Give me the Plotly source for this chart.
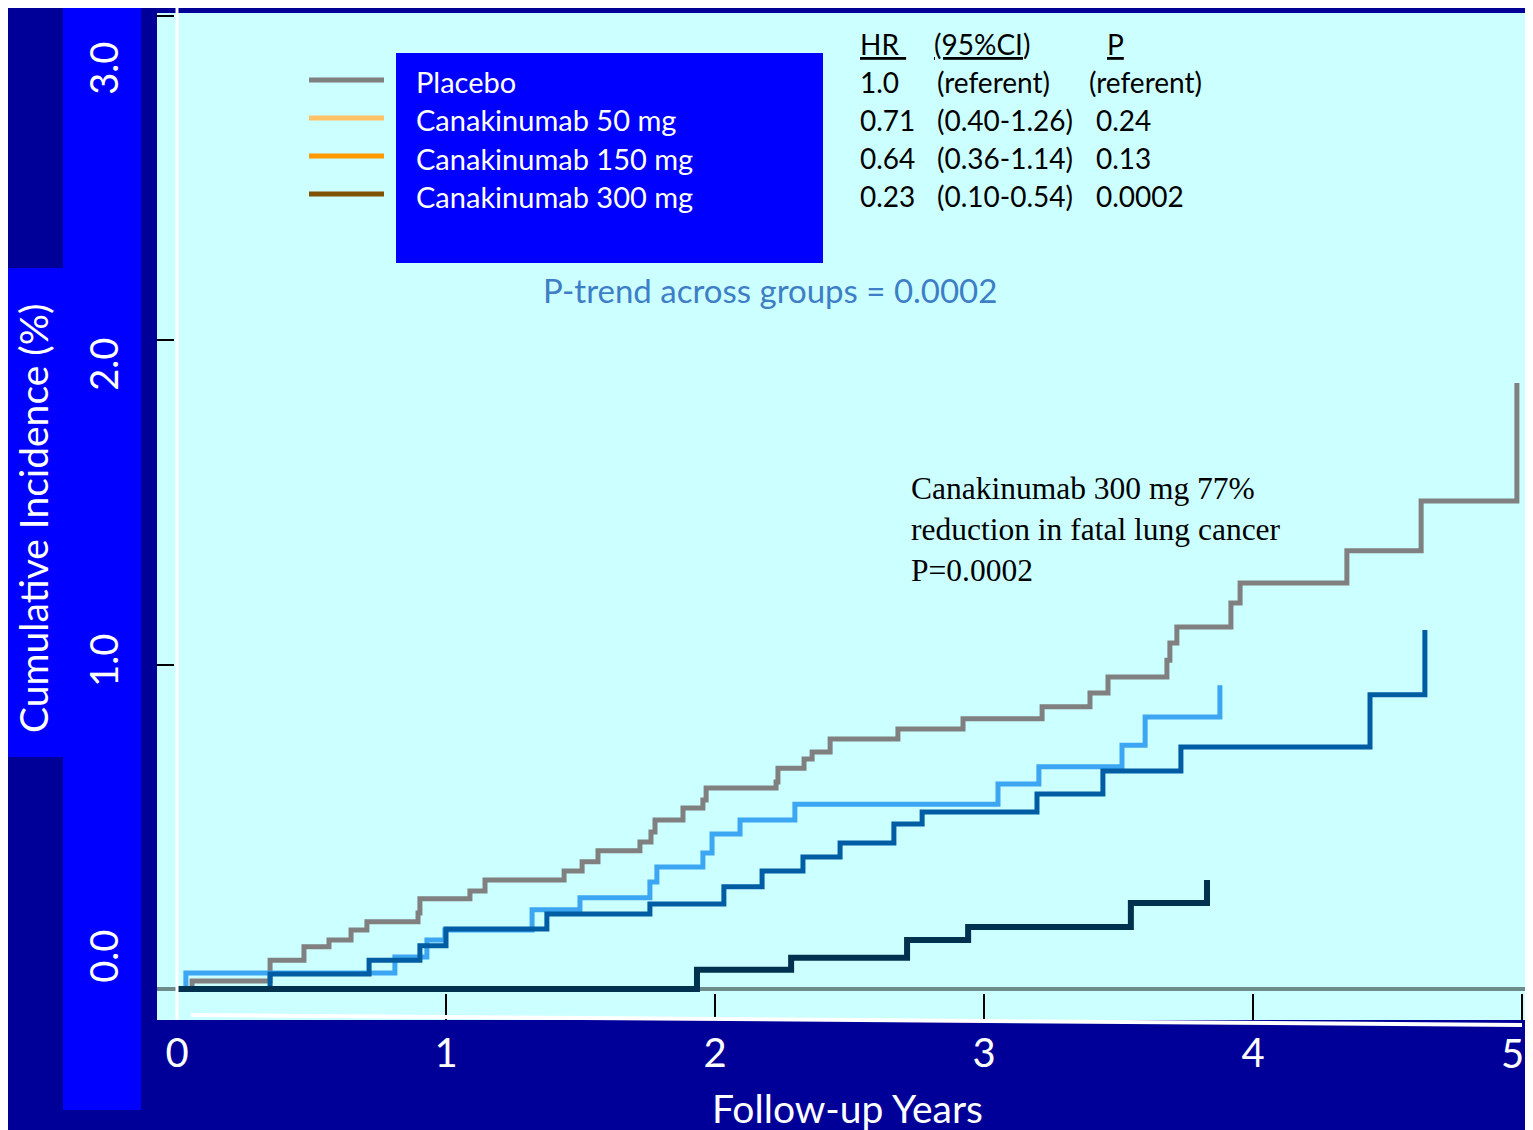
import plotly.graph_objects as go

# ---------------- data ----------------
t_placebo = [0.0, 0.056, 0.346, 0.472, 0.565, 0.647, 0.706, 0.896, 0.903, 1.089, 1.145, 1.439,
             1.506, 1.565, 1.721, 1.762, 1.777, 1.881, 1.955, 1.967, 2.227, 2.234, 2.331, 2.361,
             2.428, 2.680, 2.922, 3.216, 3.394, 3.461, 3.680, 3.691, 3.717, 3.918, 3.952, 4.349,
             4.625, 4.981]
ci_placebo = [0.0, 0.025, 0.089, 0.130, 0.151, 0.182, 0.207, 0.234, 0.278, 0.302, 0.336, 0.364,
              0.392, 0.426, 0.453, 0.484, 0.521, 0.558, 0.583, 0.620, 0.638, 0.681, 0.709, 0.731,
              0.771, 0.802, 0.833, 0.870, 0.913, 0.962, 1.014, 1.067, 1.116, 1.190, 1.252, 1.351,
              1.505, 1.869]

t_50 = [0.0, 0.033, 0.810, 0.929, 0.996, 1.320, 1.498, 1.758, 1.784, 1.955, 1.989, 2.093,
        2.297, 3.052, 3.204, 3.513, 3.599, 3.877]
ci_50 = [0.0, 0.049, 0.099, 0.151, 0.182, 0.244, 0.281, 0.330, 0.376, 0.419, 0.478, 0.521,
         0.570, 0.632, 0.685, 0.752, 0.839, 0.937]

t_150 = [0.0, 0.346, 0.714, 0.903, 1.000, 1.375, 1.758, 2.033, 2.175, 2.327, 2.465, 2.665,
         2.770, 3.197, 3.442, 3.732, 4.435, 4.639]
ci_150 = [0.0, 0.046, 0.089, 0.133, 0.185, 0.231, 0.262, 0.315, 0.364, 0.407, 0.450, 0.509,
          0.546, 0.601, 0.672, 0.746, 0.907, 1.107]

t_300 = [0.0, 1.933, 2.283, 2.714, 2.941, 3.546, 3.829]
ci_300 = [0.0, 0.059, 0.096, 0.151, 0.191, 0.265, 0.336]

x_ticks = [0, 1, 2, 3, 4, 5]
x_ticktext = ["0", "1", "2", "3", "4", "5"]
y_ticks = [0, 1, 2, 3]
y_ticktext = ["0.0", "1.0", "2.0", "3.0"]

legend_names = ["Placebo", "Canakinumab 50 mg", "Canakinumab 150 mg", "Canakinumab 300 mg"]
legend_colors = ["#808080", "#FFC266", "#FF9900", "#7F5200"]

table_hr = ["1.0", "0.71", "0.64", "0.23"]
table_ci = ["(referent)", "(0.40-1.26)", "(0.36-1.14)", "(0.10-0.54)"]
table_p = ["(referent)", "0.24", "0.13", "0.0002"]

# ---------------- figure ----------------
OFF = 8  # page body margin
W, H = 1533 - OFF, 1130 - OFF
L, T = 157 - OFF, 13 - OFF
R = W - (1525 - OFF)
B = H - (1020 - OFF)
PW, PH = W - L - R, H - T - B


def px(xp):
    return (xp - 157) / PW


def py(yp):
    return (1020 - yp) / PH


SANS = "Lato"
fig = go.Figure()

curves = [
    (t_placebo, ci_placebo, "#808080", 5),
    (t_50, ci_50, "#3CA6F2", 5),
    (t_150, ci_150, "#005CA3", 5),
    (t_300, ci_300, "#00324F", 6),
]
for t, c, col, w in curves:
    fig.add_trace(go.Scatter(x=t, y=c, mode="lines", line=dict(color=col, width=w, shape="hv"),
                             showlegend=False, hoverinfo="skip"))

# invisible trace to activate label axis
fig.add_trace(go.Scatter(x=[None], y=[None], yaxis="y2", showlegend=False, hoverinfo="skip"))

shapes = []
shapes.append(dict(type="rect", xref="paper", yref="paper", x0=px(63), x1=px(141), y0=py(1110), y1=py(0),
                   fillcolor="#0000FF", line=dict(width=0), layer="below"))
shapes.append(dict(type="rect", xref="paper", yref="paper", x0=px(0), x1=px(63.5), y0=py(757), y1=py(268),
                   fillcolor="#0000FF", line=dict(width=0), layer="below"))
shapes.append(dict(type="line", xref="paper", yref="y", x0=0, x1=1, y0=0, y1=0,
                   line=dict(color="#6E8B8B", width=4), layer="below"))
shapes.append(dict(type="line", xref="x", yref="paper", x0=0, x1=0, y0=0, y1=py(8),
                   line=dict(color="white", width=3), layer="above"))
shapes.append(dict(type="line", xref="paper", yref="paper", x0=px(191), x1=px(1522), y0=py(1015), y1=py(1025),
                   line=dict(color="white", width=4), layer="above"))
shapes.append(dict(type="rect", xref="paper", yref="paper", x0=px(396), x1=px(823), y0=py(263), y1=py(53),
                   fillcolor="#0000FF", line=dict(width=0), layer="above"))
leg_y = [80, 118, 156, 194]
for yy, col in zip(leg_y, legend_colors):
    shapes.append(dict(type="line", xref="paper", yref="paper", x0=px(309), x1=px(384), y0=py(yy), y1=py(yy),
                       line=dict(color=col, width=5), layer="above"))

ann = []
text_y = [81, 119, 158, 196]
for yy, name in zip(text_y, legend_names):
    ann.append(dict(xref="paper", yref="paper", x=px(414), y=py(yy), text=name, showarrow=False,
                    xanchor="left", yanchor="middle", font=dict(family=SANS, size=29, color="white")))

hdr_y = 44
tf = dict(family=SANS, size=28, color="black")
ann.append(dict(xref="paper", yref="paper", x=px(858), y=py(hdr_y), text="<u>HR\u00a0</u>", showarrow=False,
                xanchor="left", yanchor="middle", font=tf))
ann.append(dict(xref="paper", yref="paper", x=px(932), y=py(hdr_y), text="<u>(95%CI</u>)", showarrow=False,
                xanchor="left", yanchor="middle", font=tf))
ann.append(dict(xref="paper", yref="paper", x=px(1105), y=py(hdr_y), text="<u>P</u>", showarrow=False,
                xanchor="left", yanchor="middle", font=tf))
row_y = [82, 120, 158, 196]
for i, yy in enumerate(row_y):
    ann.append(dict(xref="paper", yref="paper", x=px(858), y=py(yy), text=table_hr[i], showarrow=False,
                    xanchor="left", yanchor="middle", font=tf))
    ann.append(dict(xref="paper", yref="paper", x=px(935), y=py(yy), text=table_ci[i], showarrow=False,
                    xanchor="left", yanchor="middle", font=tf))
    ann.append(dict(xref="paper", yref="paper", x=px(1087 if i == 0 else 1094), y=py(yy), text=table_p[i],
                    showarrow=False, xanchor="left", yanchor="middle", font=tf))

ann.append(dict(xref="paper", yref="paper", x=px(770), y=py(290), text="P-trend across groups = 0.0002",
                showarrow=False, xanchor="center", yanchor="middle",
                font=dict(family=SANS, size=33, color="#3D7EC6")))

ann.append(dict(xref="paper", yref="paper", x=px(909), y=py(530),
                text="Canakinumab 300 mg 77%<br>reduction in fatal lung cancer<br>P=0.0002",
                showarrow=False, xanchor="left", yanchor="middle", align="left",
                font=dict(family="Liberation Serif", size=31.5, color="black")))

ann.append(dict(xref="paper", yref="paper", x=px(847), y=py(1108), text="Follow-up Years", showarrow=False,
                xanchor="center", yanchor="middle", font=dict(family=SANS, size=39, color="white")))
ann.append(dict(xref="paper", yref="paper", x=px(33), y=py(519), text="Cumulative Incidence (%)",
                showarrow=False, textangle=-90, xanchor="center", yanchor="middle",
                font=dict(family=SANS, size=39, color="white")))

# last x tick label sits at the very edge of the figure: drawn as a paper annotation so it is not dropped
ann.append(dict(xref="paper", yref="paper", x=px(1525), y=py(1053), text=x_ticktext[-1], showarrow=False,
                xanchor="right", yanchor="middle", borderpad=0,
                font=dict(family=SANS, size=40, color="white")))
axis_ticktext = x_ticktext[:-1] + [""]

x_lo = (157 - 177) / 269.0
x_hi = (1525 - 177) / 269.0
y_lo = (989 - 1020) / 324.3
y_hi = (989 - 13) / 324.3
y2_lo = (962 - 1020) / 296.0
y2_hi = (962 - 13) / 296.0

fig.update_layout(
    width=W, height=H,
    margin=dict(l=L, r=R, t=T, b=B, pad=0),
    paper_bgcolor="#000099",
    plot_bgcolor="#CCFFFF",
    shapes=shapes,
    annotations=ann,
    xaxis=dict(range=[x_lo, x_hi], tickvals=x_ticks, ticktext=axis_ticktext, ticks="inside", ticklen=26,
               tickwidth=1.5, tickcolor="black", showgrid=False, zeroline=False, showline=False,
               ticklabelstandoff=6,
               tickfont=dict(family=SANS, size=40, color="white"), fixedrange=True),
    yaxis=dict(range=[y_lo, y_hi], tickvals=y_ticks[1:], ticks="inside", ticklen=17, tickwidth=2,
               tickcolor="black", showticklabels=False, showgrid=False, zeroline=False, showline=False,
               fixedrange=True),
    yaxis2=dict(range=[y2_lo, y2_hi], overlaying="y", side="left", anchor="x", tickvals=y_ticks,
                ticktext=y_ticktext, tickangle=-90, ticks="outside", ticklen=23,
                tickcolor="rgba(0,0,0,0)", showgrid=False, zeroline=False, showline=False,
                tickfont=dict(family=SANS, size=38, color="white"), fixedrange=True),
    showlegend=False,
)

fig.write_html("out.html")
